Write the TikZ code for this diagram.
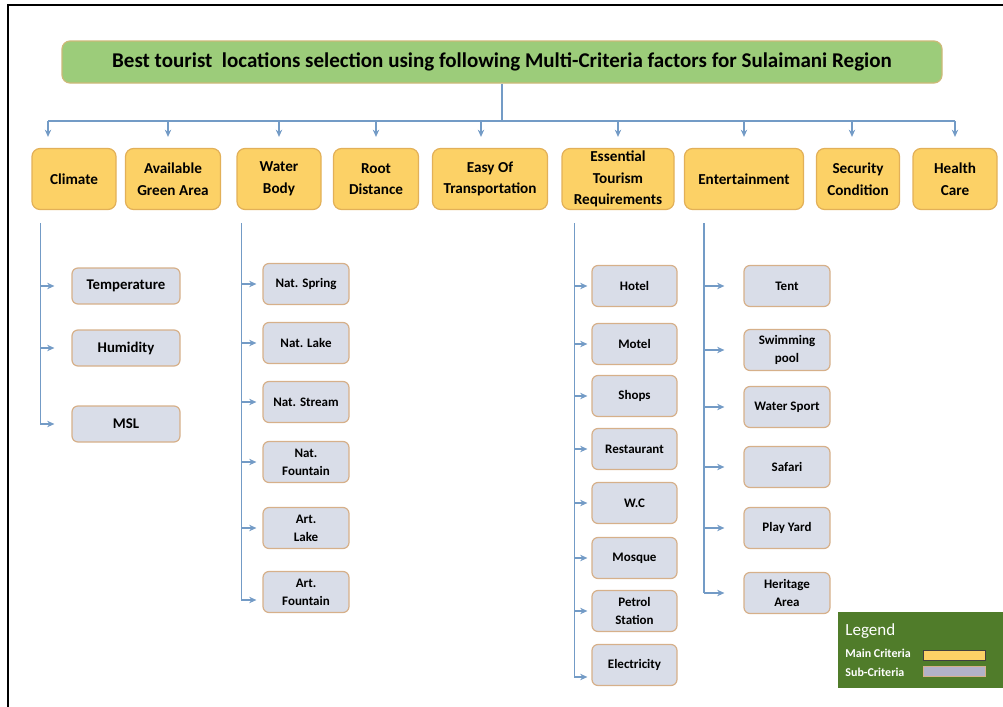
\documentclass[tikz,border=0pt]{standalone}
\usepackage{fontspec}
\setmainfont{Carlito}
\usetikzlibrary{arrows.meta}
\definecolor{linkblue}{RGB}{115,155,198}
\definecolor{mainfill}{RGB}{252,209,102}
\definecolor{maindraw}{RGB}{226,176,88}
\definecolor{subfill}{RGB}{217,221,232}
\definecolor{subdraw}{RGB}{214,176,138}
\definecolor{titlefill}{RGB}{156,204,122}
\definecolor{titledraw}{RGB}{205,185,120}
\definecolor{legendfill}{RGB}{80,124,42}
\definecolor{keygray}{RGB}{178,178,200}

\tikzset{
	titlebox/.style={rectangle,rounded corners=4pt,draw=titledraw,fill=titlefill,line width=0.6pt,minimum width=440pt,minimum height=21pt,font=\fontsize{10.5}{12}\selectfont\bfseries},
	maincrit/.style={rectangle,rounded corners=4pt,draw=maindraw,fill=mainfill,line width=0.6pt,minimum height=30.5pt,align=center,inner sep=1pt,font=\fontsize{7.6}{10.75}\selectfont\bfseries},
	subcrit/.style={rectangle,rounded corners=3pt,draw=subdraw,fill=subfill,line width=0.6pt,minimum width=43pt,minimum height=20.5pt,align=center,inner sep=1pt,font=\fontsize{6.5}{9}\selectfont\bfseries},
	bigsub/.style={subcrit,minimum width=54pt,minimum height=18pt,font=\fontsize{7.4}{9}\selectfont\bfseries},
	wire/.style={draw=linkblue,line width=0.6pt},
	link/.style={wire,-{Stealth[length=3.6pt,width=3.2pt]}},
	keytext/.style={anchor=west,inner sep=0pt,text=white}
}

\begin{document}
\begin{tikzpicture}[x=0.5pt,y=-0.5pt]
	\useasboundingbox (0,0) rectangle (1003,707);
	\draw[line width=1.2pt] (1003,5) -- (8,5) -- (8,707);

	\node[titlebox] (title) at (502,62) {Best tourist~~locations selection using following Multi-Criteria factors for Sulaimani Region};

	\node[maincrit,minimum width=42pt] (climate) at (74,179) {Climate};
	\node[maincrit,minimum width=47.5pt] (green) at (173,179) {Available\\Green Area};
	\node[maincrit,minimum width=42pt] (water) at (279,179) {Water\\Body};
	\node[maincrit,minimum width=42.5pt] (root) at (376,179) {Root\\Distance};
	\node[maincrit,minimum width=57.5pt] (transport) at (490,179) {Easy Of\\Transportation};
	\node[maincrit,minimum width=56pt] (essential) at (618,179) {Essential\\Tourism\\Requirements};
	\node[maincrit,minimum width=59.5pt] (entertain) at (744,179) {Entertainment};
	\node[maincrit,minimum width=41.5pt] (security) at (858,179) {Security\\Condition};
	\node[maincrit,minimum width=42pt] (health) at (955,179) {Health\\Care};

	\coordinate (bus) at (502,121);
	\draw[wire] (title.south) -- (bus);
	\draw[wire] ([xshift=-13pt]climate.north |- bus) -- (health.north |- bus);
	\foreach \n/\dx in {climate/-13,green/-2.5,water/0,root/0,transport/-4.5,essential/0,entertain/0,security/-3,health/0}
		\draw[link,shorten >=5.5pt] ([xshift=\dx pt]\n.north |- bus) -- ([xshift=\dx pt]\n.north);

	% climate
	\node[bigsub] (temp) at (126,286) {Temperature};
	\node[bigsub] (humid) at (126,348) {Humidity};
	\node[bigsub] (msl) at (126,424) {MSL};

	% water body
	\node[subcrit] (spring) at (306,284) {Nat. Spring};
	\node[subcrit] (lake) at (306,343) {Nat. Lake};
	\node[subcrit] (stream) at (306,402) {Nat. Stream};
	\node[subcrit] (fountain) at (306,462) {Nat.\\Fountain};
	\node[subcrit] (artlake) at (306,528) {Art.\\Lake};
	\node[subcrit] (artfountain) at (306,592) {Art.\\Fountain};

	% tourism requirements
	\node[subcrit,minimum width=42.5pt] (hotel) at (634.5,286) {Hotel};
	\node[subcrit,minimum width=42.5pt] (motel) at (634.5,344) {Motel};
	\node[subcrit,minimum width=42.5pt] (shops) at (634.5,396) {Shops};
	\node[subcrit,minimum width=42.5pt] (restaurant) at (634.5,449) {Restaurant};
	\node[subcrit,minimum width=42.5pt] (wc) at (634.5,503) {W.C};
	\node[subcrit,minimum width=42.5pt] (mosque) at (634.5,558) {Mosque};
	\node[subcrit,minimum width=42.5pt] (petrol) at (634.5,611) {Petrol\\Station};
	\node[subcrit,minimum width=42.5pt] (electricity) at (634.5,665) {Electricity};

	% entertainment
	\node[subcrit] (tent) at (787,286) {Tent};
	\node[subcrit] (pool) at (787,350) {Swimming\\pool};
	\node[subcrit] (watersport) at (787,407) {Water Sport};
	\node[subcrit] (safari) at (787,467) {Safari};
	\node[subcrit] (playyard) at (787,528) {Play Yard};
	\node[subcrit] (heritage) at (787,593) {Heritage\\Area};

	\coordinate (climstem) at ([xshift=4.5pt,yshift=-6.5pt]climate.south west);
	\draw[wire] (climstem) -- (climstem |- msl.west);
	\foreach \n in {temp,humid,msl}
		\draw[link,shorten >=8.5pt] (climstem |- \n.west) -- (\n.west);

	\coordinate (waterstem) at ([xshift=2.5pt,yshift=-6.5pt]water.south west);
	\coordinate (artfountainin) at ([yshift=-4pt]artfountain.west);
	\draw[wire] (waterstem) -- (waterstem |- artfountainin);
	\foreach \n in {spring.west,lake.west,stream.west,fountain.west,artlake.west,artfountainin}
		\draw[link,shorten >=3pt] (waterstem |- \n) -- (\n);

	\coordinate (essstem) at ([xshift=6.5pt,yshift=-6.5pt]essential.south west);
	\coordinate (electricityin) at ([yshift=-6pt]electricity.west);
	\draw[wire] (essstem) -- (essstem |- electricityin);
	\foreach \n in {hotel.west,motel.west,shops.west,restaurant.west,wc.west,mosque.west,petrol.west,electricityin}
		\draw[link,shorten >=2pt] (essstem |- \n) -- (\n);

	\coordinate (entstem) at ([xshift=10pt,yshift=-6.5pt]entertain.south west);
	\draw[wire] (entstem) -- (entstem |- heritage.west);
	\foreach \n in {tent,pool,watersport,safari,playyard,heritage}
		\draw[link,shorten >=9.5pt] (entstem |- \n.west) -- (\n.west);

	% legend
	\node[rectangle,fill=legendfill,minimum width=82.5pt,minimum height=38pt,anchor=north west] (legend) at (838,612) {};
	\node[keytext,font=\fontsize{8.5}{10}\selectfont] (legendtitle) at (845,631) {Legend};
	\node[keytext,font=\fontsize{6}{7}\selectfont\bfseries] (mainkey) at (845,653) {Main Criteria};
	\node[keytext,font=\fontsize{6}{7}\selectfont\bfseries] (subkey) at (845,672) {Sub-Criteria};
	\node[rectangle,fill=mainfill,draw=black!75,line width=0.5pt,minimum width=31pt,minimum height=5pt,inner sep=0pt] (mainbar) at (954,655) {};
	\node[rectangle,fill=keygray,draw=subdraw,line width=0.5pt,minimum width=31pt,minimum height=5pt,inner sep=0pt] (subbar) at (954,671) {};
\end{tikzpicture}
\end{document}
